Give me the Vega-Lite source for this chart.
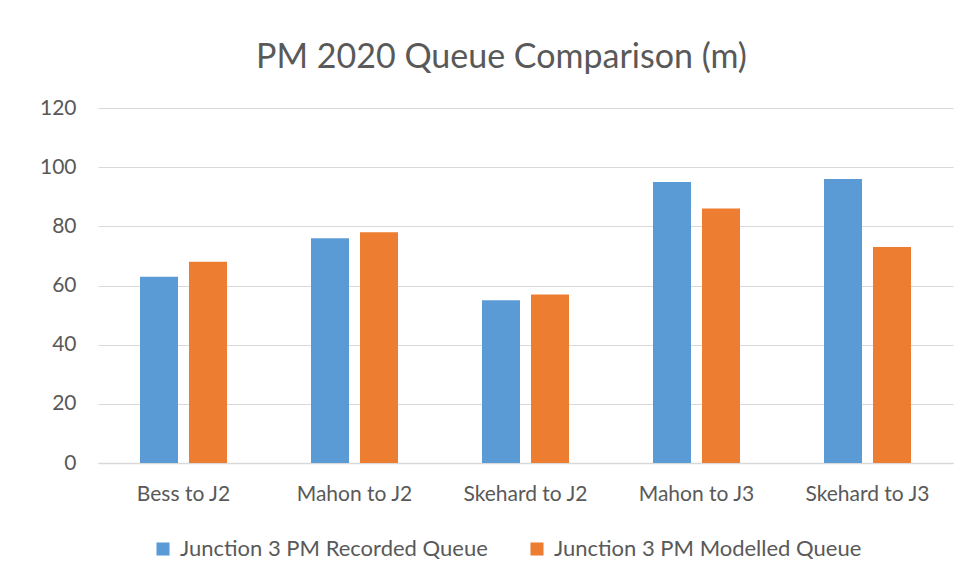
{
  "$schema": "https://vega.github.io/schema/vega-lite/v6.json",
  "width": 855,
  "height": 355,
  "autosize": {"type": "none"},
  "padding": {"left": 98, "top": 108, "right": 13, "bottom": 116},
  "background": "white",
  "title": {
    "text": "PM 2020 Queue Comparison (m)",
    "fontSize": 34,
    "font": "Lato",
    "fontWeight": "normal",
    "color": "#595959",
    "anchor": "middle",
    "dx": -24,
    "offset": 22
  },
  "data": {
    "values": [
      {"route": "Bess to J2", "series": "Junction 3 PM Recorded Queue", "queue": 63},
      {"route": "Bess to J2", "series": "Junction 3 PM Modelled Queue", "queue": 68},
      {"route": "Mahon to J2", "series": "Junction 3 PM Recorded Queue", "queue": 76},
      {"route": "Mahon to J2", "series": "Junction 3 PM Modelled Queue", "queue": 78},
      {"route": "Skehard to J2", "series": "Junction 3 PM Recorded Queue", "queue": 55},
      {"route": "Skehard to J2", "series": "Junction 3 PM Modelled Queue", "queue": 57},
      {"route": "Mahon to J3", "series": "Junction 3 PM Recorded Queue", "queue": 95},
      {"route": "Mahon to J3", "series": "Junction 3 PM Modelled Queue", "queue": 86},
      {"route": "Skehard to J3", "series": "Junction 3 PM Recorded Queue", "queue": 96},
      {"route": "Skehard to J3", "series": "Junction 3 PM Modelled Queue", "queue": 73}
    ]
  },
  "mark": {"type": "bar"},
  "encoding": {
    "x": {
      "field": "route",
      "type": "nominal",
      "sort": null,
      "scale": {"paddingInner": 0, "paddingOuter": 0},
      "axis": {
        "title": null,
        "labelAngle": 0,
        "labelFontSize": 21,
        "labelFont": "Lato",
        "labelColor": "#595959",
        "labelPadding": 20,
        "ticks": false,
        "domainColor": "#d9d9d9",
        "domainWidth": 1.5
      }
    },
    "xOffset": {
      "field": "series",
      "type": "nominal",
      "sort": ["Junction 3 PM Recorded Queue", "Junction 3 PM Modelled Queue"],
      "scale": {"paddingInner": 0.2245, "paddingOuter": 0.857}
    },
    "y": {
      "field": "queue",
      "type": "quantitative",
      "scale": {"domain": [0, 120]},
      "axis": {
        "title": null,
        "values": [0, 20, 40, 60, 80, 100, 120],
        "labelFontSize": 21,
        "labelFont": "Lato",
        "labelColor": "#595959",
        "labelPadding": 22,
        "ticks": false,
        "domain": false,
        "gridColor": "#d9d9d9",
        "gridWidth": 1.2
      }
    },
    "color": {
      "field": "series",
      "type": "nominal",
      "sort": ["Junction 3 PM Recorded Queue", "Junction 3 PM Modelled Queue"],
      "scale": {
        "domain": ["Junction 3 PM Recorded Queue", "Junction 3 PM Modelled Queue"],
        "range": ["#5B9BD5", "#ED7D31"]
      },
      "legend": {
        "title": null,
        "orient": "none",
        "legendX": 54,
        "legendY": 430,
        "direction": "horizontal",
        "symbolType": "square",
        "symbolSize": 170,
        "symbolStrokeWidth": 0,
        "labelFontSize": 22,
        "labelFont": "Lato",
        "labelColor": "#595959",
        "labelOffset": 6,
        "labelLimit": 0,
        "columnPadding": 38
      }
    }
  },
  "config": {
    "view": {"stroke": null}
  }
}
